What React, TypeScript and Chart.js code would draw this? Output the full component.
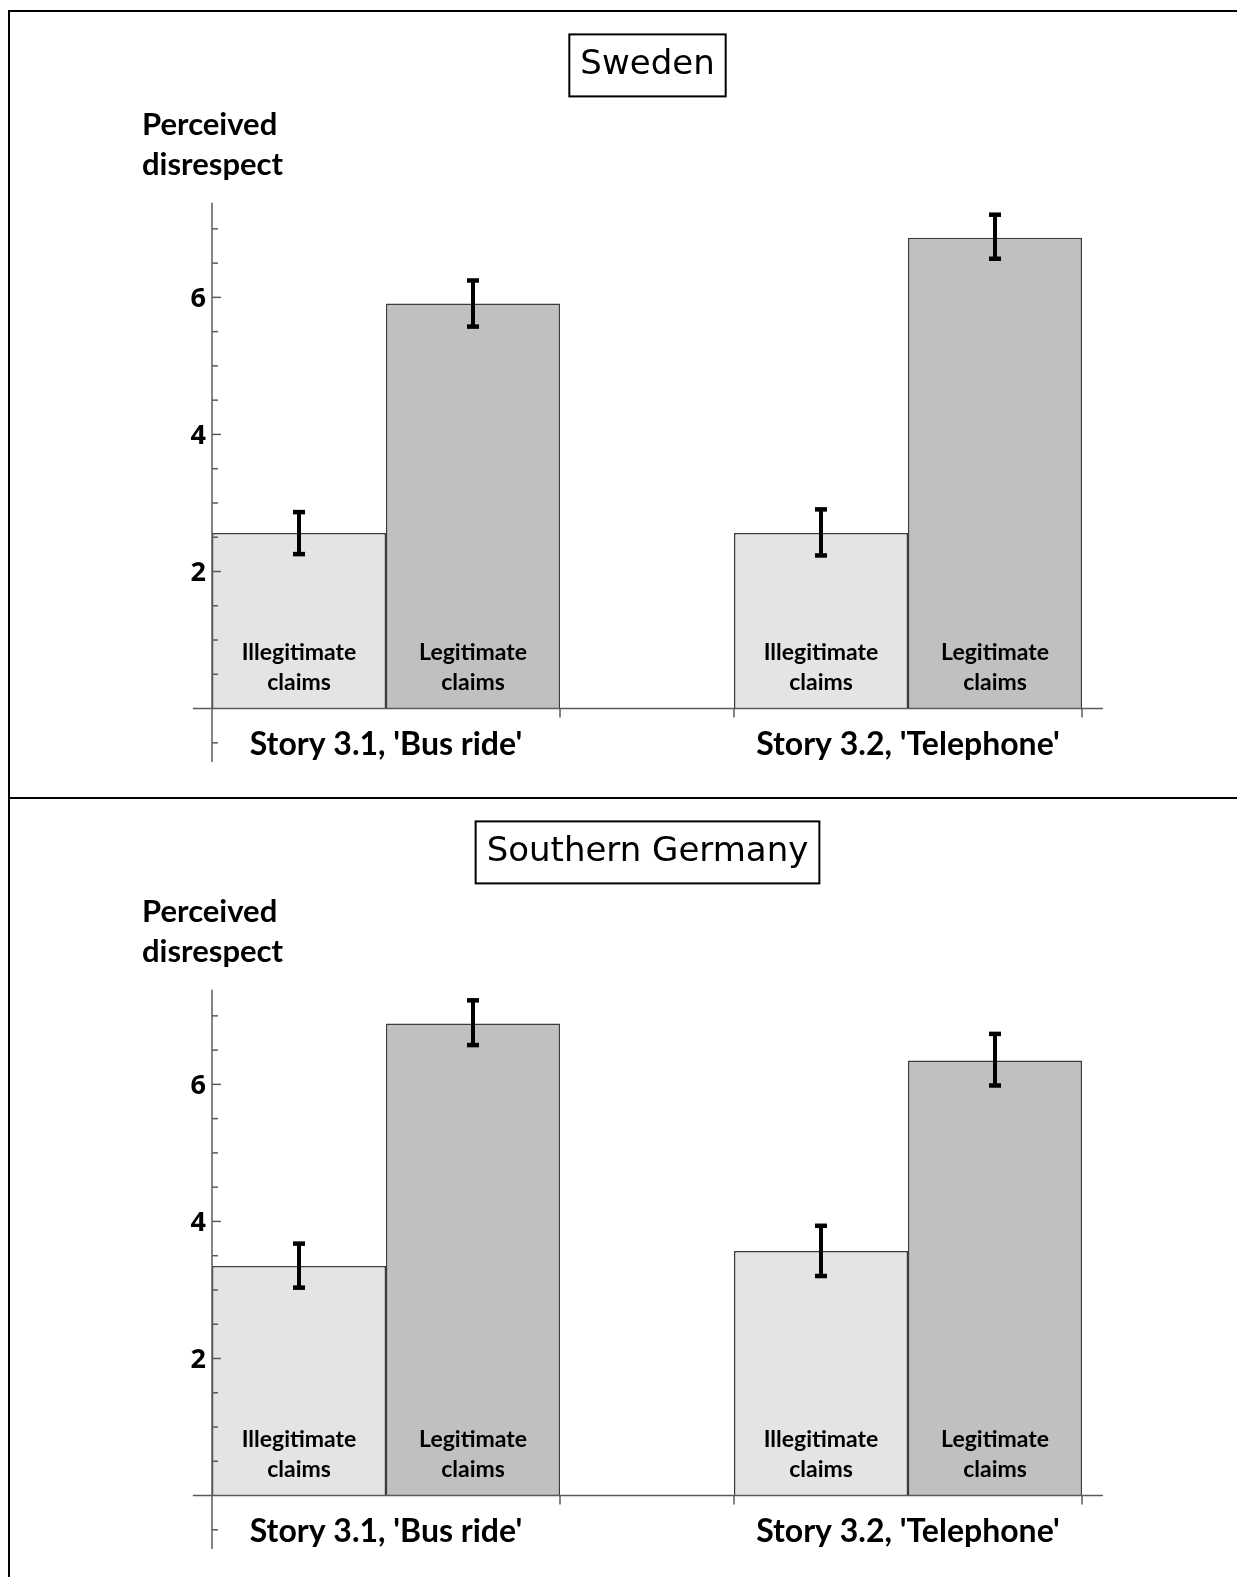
import React, { useEffect, useRef } from 'react';
import { Chart, registerables } from 'chart.js';

Chart.register(...registerables);

// ---------- data ----------
const CATEGORIES = ["Story 3.1, 'Bus ride'", "Story 3.2, 'Telephone'"];
const SERIES = ['Illegitimate claims', 'Legitimate claims'];
const Y_TICK_LABELS = [2, 4, 6];
const Y_MIN = -0.78;
const Y_MAX = 7.38;

const SWEDEN_ILLEGITIMATE = [2.56, 2.56];
const SWEDEN_LEGITIMATE = [5.91, 6.87];
const SWEDEN_ILLEGITIMATE_CI = [[2.25, 2.87], [2.23, 2.91]];
const SWEDEN_LEGITIMATE_CI = [[5.57, 6.25], [6.56, 7.21]];

const GERMANY_ILLEGITIMATE = [3.35, 3.57];
const GERMANY_LEGITIMATE = [6.89, 6.35];
const GERMANY_ILLEGITIMATE_CI = [[3.03, 3.68], [3.2, 3.94]];
const GERMANY_LEGITIMATE_CI = [[6.57, 7.23], [5.98, 6.74]];

// ---------- layout constants ----------
const GROUP_STEP = 3; // slots per group (2 bars + 1 gap)
const GROUP_CENTER = 1;
const X_MAX = 5.408;
const X_AXIS_FROM = -0.11;
const X_AXIS_TO = 5.12;
const xPos = (i: number) => i * GROUP_STEP + GROUP_CENTER;

const CANVAS_W = 1227;
const CANVAS_H = 785;
const TITLE_FONT = 34;
const TITLE_PAD_TOP = 33;
const LABEL_FONT = '"Lato", "Open Sans", sans-serif';
const TICK_FONT = '"Open Sans", "Lato", sans-serif';
const AXIS_COLOR = '#5a5a5a';

function makeDecor(title: string, errors: number[][][]) {
  return {
    id: 'decor',
    afterDatasetsDraw(chart: any) {
      const { ctx } = chart;
      const xs = chart.scales.x;
      const ys = chart.scales.y;
      const y0 = ys.getPixelForValue(0);
      const yAxisX = xs.getPixelForValue(0);
      const line = (x1: number, y1: number, x2: number, y2: number) => {
        ctx.beginPath();
        ctx.moveTo(x1, y1);
        ctx.lineTo(x2, y2);
        ctx.stroke();
      };
      ctx.save();
      ctx.strokeStyle = AXIS_COLOR;
      ctx.lineWidth = 1.5;
      // y axis
      line(yAxisX, ys.getPixelForValue(Y_MAX), yAxisX, ys.getPixelForValue(Y_MIN));
      // x axis at zero
      line(xs.getPixelForValue(X_AXIS_FROM), y0, xs.getPixelForValue(X_AXIS_TO), y0);
      // y ticks (inward)
      for (let k = -1; k <= 14; k++) {
        const v = k * 0.5;
        if (v === 0) continue;
        const p = ys.getPixelForValue(v);
        const len = Y_TICK_LABELS.includes(v) ? 9 : 6;
        line(yAxisX, p, yAxisX + len, p);
      }
      // y tick labels
      ctx.fillStyle = '#000';
      ctx.font = `bold 27px ${TICK_FONT}`;
      ctx.textAlign = 'right';
      ctx.textBaseline = 'alphabetic';
      Y_TICK_LABELS.forEach((v) => {
        ctx.fillText(String(v), yAxisX - 6, ys.getPixelForValue(v) + 9.5);
      });
      // x ticks at group edges
      CATEGORIES.forEach((_, i) => {
        [xPos(i) - 1, xPos(i) + 1].forEach((u) => {
          if (u === 0) return;
          const px = xs.getPixelForValue(u);
          line(px, y0, px, y0 + 9);
        });
      });
      // bar labels and error bars
      chart.data.datasets.forEach((ds: any, di: number) => {
        const meta = chart.getDatasetMeta(di);
        const words = SERIES[di].split(' ');
        meta.data.forEach((bar: any, i: number) => {
          ctx.fillStyle = '#000';
          ctx.font = `bold 23px ${LABEL_FONT}`;
          ctx.textAlign = 'center';
          ctx.textBaseline = 'alphabetic';
          ctx.fillText(words[0], bar.x, y0 - 49);
          ctx.fillText(words[1], bar.x, y0 - 19);
          const [lo, hi] = errors[di][i];
          const pLo = ys.getPixelForValue(lo);
          const pHi = ys.getPixelForValue(hi);
          ctx.fillRect(bar.x - 2, pHi, 4, pLo - pHi);
          ctx.fillRect(bar.x - 6, pHi - 2, 12, 4.5);
          ctx.fillRect(bar.x - 6, pLo - 2.5, 12, 4.5);
        });
      });
      ctx.restore();
    },
    afterDraw(chart: any) {
      const { ctx } = chart;
      const tb = chart.titleBlock;
      ctx.save();
      ctx.font = `normal ${TITLE_FONT}px "DejaVu Sans", Verdana, sans-serif`;
      const w = ctx.measureText(title).width;
      const cx = (tb.left + tb.right) / 2;
      const cy = tb.top + TITLE_PAD_TOP + (TITLE_FONT * 1.2) / 2;
      ctx.strokeStyle = '#000';
      ctx.lineWidth = 2;
      ctx.strokeRect(cx - w / 2 - 11, cy - 31, w + 22, 62);
      ctx.restore();
    },
  };
}

interface PanelProps {
  title: string;
  illegit: number[];
  legit: number[];
  illegitCI: number[][];
  legitCI: number[][];
  top: number;
}

function Panel({ title, illegit, legit, illegitCI, legitCI, top }: PanelProps) {
  const ref = useRef<HTMLCanvasElement | null>(null);
  useEffect(() => {
    if (!ref.current) return;
    const chart = new Chart(ref.current, {
      type: 'bar',
      data: {
        datasets: [
          {
            label: SERIES[0],
            data: illegit.map((v, i) => ({ x: xPos(i), y: v })),
            backgroundColor: '#e4e4e4',
            borderColor: '#3c3c3c',
            borderWidth: 1.5,
            borderSkipped: 'start',
            categoryPercentage: 2 / 3,
            barPercentage: 1,
          },
          {
            label: SERIES[1],
            data: legit.map((v, i) => ({ x: xPos(i), y: v })),
            backgroundColor: '#c0c0c0',
            borderColor: '#3c3c3c',
            borderWidth: 1.5,
            borderSkipped: 'start',
            categoryPercentage: 2 / 3,
            barPercentage: 1,
          },
        ] as any,
      },
      options: {
        responsive: false,
        animation: false,
        devicePixelRatio: 1,
        layout: { padding: { left: 132, right: 84, top: 0, bottom: 35 } },
        plugins: {
          legend: { display: false },
          tooltip: { enabled: false },
          title: {
            display: true,
            text: title,
            align: 'center',
            color: '#000',
            font: { family: '"DejaVu Sans", Verdana, sans-serif', size: TITLE_FONT, weight: 'normal', lineHeight: 1.2 },
            padding: { top: TITLE_PAD_TOP, bottom: 0 },
          },
          subtitle: {
            display: true,
            text: ['Perceived', 'disrespect'],
            align: 'start',
            color: '#000',
            font: { family: LABEL_FONT, size: 31, weight: 'bold', lineHeight: 40 / 31 },
            padding: { top: 19, bottom: 18 },
          },
        },
        scales: {
          x: {
            type: 'linear',
            min: 0,
            max: X_MAX,
            offset: false,
            position: { y: 0 } as any,
            grid: { display: false, drawTicks: false },
            border: { display: false },
            afterBuildTicks: (s: any) => {
              s.ticks = CATEGORIES.map((_, i) => ({ value: xPos(i) }));
            },
            afterFit: (s: any) => {
              s.paddingLeft = 0;
              s.paddingRight = 0;
            },
            ticks: {
              autoSkip: false,
              maxRotation: 0,
              minRotation: 0,
              padding: 17,
              color: '#000',
              font: { family: LABEL_FONT, size: 32, weight: 'bold' },
              callback: (v: any) => CATEGORIES[Math.round((Number(v) - GROUP_CENTER) / GROUP_STEP)] ?? '',
            },
          },
          y: {
            type: 'linear',
            min: Y_MIN,
            max: Y_MAX,
            position: 'left',
            grid: { display: false, drawTicks: false },
            border: { display: false },
            afterBuildTicks: (s: any) => {
              s.ticks = Y_TICK_LABELS.map((v) => ({ value: v }));
            },
            afterFit: (s: any) => {
              s.width = 70;
              s.paddingTop = 0;
              s.paddingBottom = 0;
            },
            ticks: { display: false },
          },
        },
      } as any,
      plugins: [makeDecor(title, [illegitCI, legitCI])],
    });
    return () => chart.destroy();
  }, [title, illegit, legit, illegitCI, legitCI]);

  return (
    <canvas
      ref={ref}
      width={CANVAS_W}
      height={CANVAS_H}
      style={{ position: 'absolute', left: 10, top, width: CANVAS_W, height: CANVAS_H, display: 'block' }}
    />
  );
}

export default function App() {
  return (
    <div
      style={{
        position: 'absolute',
        left: 0,
        top: 0,
        width: 1237,
        height: 1577,
        overflow: 'hidden',
        background: '#fff',
      }}
    >
      <div style={{ position: 'absolute', left: 8, top: 10, width: 2, height: 1567, background: '#000' }} />
      <div style={{ position: 'absolute', left: 8, top: 10, width: 1229, height: 2, background: '#000' }} />
      <div style={{ position: 'absolute', left: 8, top: 797, width: 1229, height: 2, background: '#000' }} />
      <Panel
        title="Sweden"
        illegit={SWEDEN_ILLEGITIMATE}
        legit={SWEDEN_LEGITIMATE}
        illegitCI={SWEDEN_ILLEGITIMATE_CI}
        legitCI={SWEDEN_LEGITIMATE_CI}
        top={12}
      />
      <Panel
        title="Southern Germany"
        illegit={GERMANY_ILLEGITIMATE}
        legit={GERMANY_LEGITIMATE}
        illegitCI={GERMANY_ILLEGITIMATE_CI}
        legitCI={GERMANY_LEGITIMATE_CI}
        top={799}
      />
    </div>
  );
}
